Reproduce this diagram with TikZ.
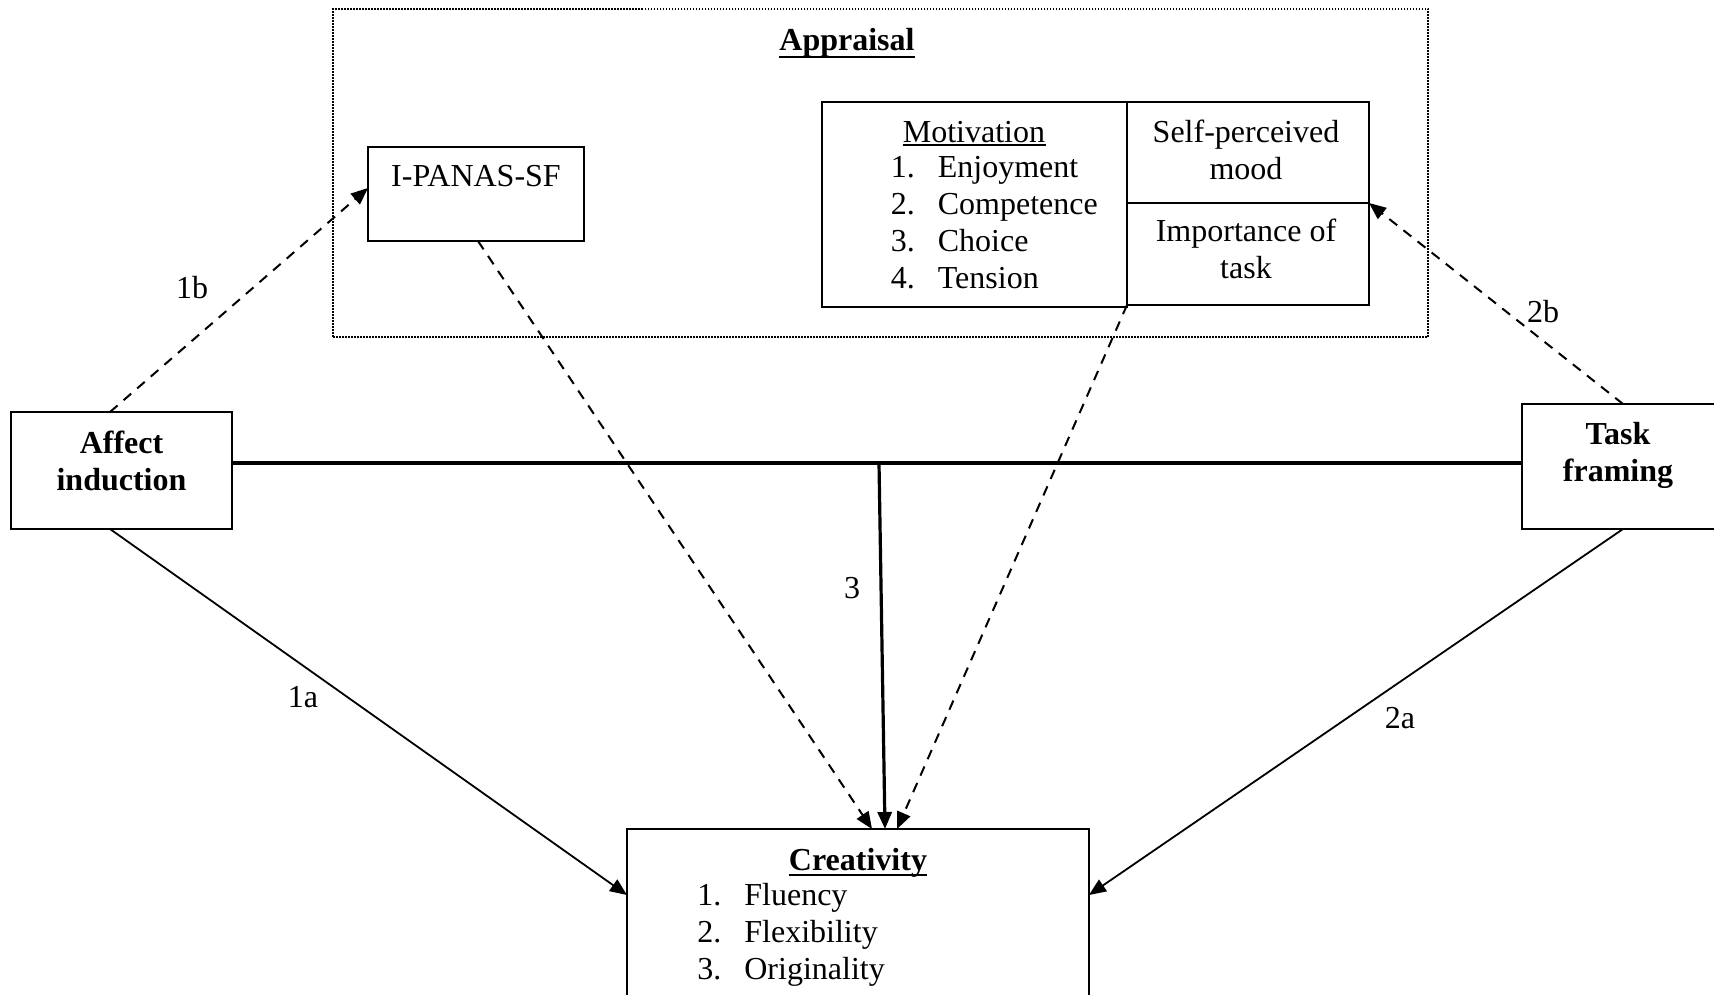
\documentclass[tikz,border=0pt]{standalone}
\usepackage{fontspec}
\setmainfont{Liberation Serif}
\usetikzlibrary{arrows.meta,calc,fit}
\tikzset{
  x=0.5pt, y=-0.5pt,
  txt/.style={inner sep=0pt, font=\fontsize{16}{18.5}\selectfont},
  box/.style={draw, line width=0.9pt, inner sep=0pt, outer sep=0pt},
  dotbox/.style={draw, line width=0.8pt, dash pattern=on 0.75pt off 0.75pt, inner sep=0pt},
  tip/.style={-{Triangle[length=8.5pt,width=7pt]}},
  dasharrow/.style={tip, line width=1pt, dash pattern=on 5pt off 4pt},
  solidarrow/.style={tip, line width=0.9pt},
  thickline/.style={line width=1.6pt},
  ulinestyle/.style={line width=1.2pt},
}
\begin{document}
\begin{tikzpicture}
\useasboundingbox (0,0) rectangle (1714,995);
\clip (0,0) rectangle (1714,995);
\fill[white] (0,0) rectangle (1714,995);

% Appraisal frame
\node[dotbox, fit={(333,9) (1428,337)}] (appraisal) {};
\node[txt, anchor=base] (apptitle) at (847,51) {\textbf{Appraisal}};
\draw[ulinestyle] ($(apptitle.base west)+(0,6)$) -- ($(apptitle.base east)+(0,6)$);

% I-PANAS-SF
\node[box, fit={(368,147) (584,241)}] (panas) {};
\node[txt, anchor=base] (panastxt) at (476,186) {I-PANAS-SF};

% Motivation
\node[box, fit={(822,102) (1127,307)}] (motiv) {};
\node[txt, anchor=base] (motivtitle) at (974,142) {Motivation};
\draw[line width=0.7pt] ($(motivtitle.base west)+(0,3)$) -- ($(motivtitle.base east)+(0,3)$);
\node[txt, anchor=base west] (motivlist) at (890.5,177)
  {\begin{tabular}[t]{@{}l@{\hspace{11.5pt}}l@{}}1.&Enjoyment\\2.&Competence\\3.&Choice\\4.&Tension\end{tabular}};

% Self-perceived mood / Importance of task
\node[box, fit={(1127,102) (1369,203)}] (selfp) {};
\node[txt, anchor=base] (selfptxt) at (1246,142)
  {\begin{tabular}[t]{@{}c@{}}Self-perceived\\mood\end{tabular}};
\node[box, fit={(1127,203) (1369,305)}] (import) {};
\node[txt, anchor=base] (importtxt) at (1246,242)
  {\begin{tabular}[t]{@{}c@{}}Importance of\\task\end{tabular}};

% Affect induction
\node[box, fit={(11,412) (232,529)}] (affect) {};
\node[txt, anchor=base] (affecttxt) at (121.5,453)
  {\begin{tabular}[t]{@{}c@{}}\textbf{Affect}\\\textbf{induction}\end{tabular}};

% Task framing
\node[box, fit={(1522,404) (1716,529)}] (task) {};
\node[txt, anchor=base] (tasktxt) at (1618,444)
  {\begin{tabular}[t]{@{}c@{}}\textbf{Task}\\\textbf{framing}\end{tabular}};

% Creativity
\node[box, fit={(627,829) (1089,1002)}] (creat) {};
\node[txt, anchor=base] (creattitle) at (858,870) {\textbf{Creativity}};
\draw[ulinestyle] ($(creattitle.base west)+(0,5)$) -- ($(creattitle.base east)+(0,5)$);
\node[txt, anchor=base west] (creatlist) at (697,905)
  {\begin{tabular}[t]{@{}l@{\hspace{11.5pt}}l@{}}1.&Fluency\\2.&Flexibility\\3.&Originality\end{tabular}};

% Connectors
\coordinate (junc) at (879,463);
\draw[thickline] (affect.east |- junc) -- (task.west |- junc);
\draw[tip, line width=1.6pt] (junc) -- ($(creat.north)+(27,0)$);

\draw[dasharrow] ($(affect.north)+(-11.5,0)$) -- ($(panas.north west)+(0,41)$);
\draw[dasharrow] ($(task.north)+(4,0)$) -- (import.north east);
\draw[dasharrow] ($(panas.south)+(2,0)$) -- ($(creat.north)+(14,0)$);
\draw[dasharrow] (import.south west) -- ($(creat.north)+(39,0)$);
\draw[solidarrow] ($(affect.south)+(-11.5,0)$) -- ($(creat.north west)+(0,66)$);
\draw[solidarrow] ($(task.south)+(4,0)$) -- ($(creat.north east)+(0,66)$);

% Labels
\node[txt] (l1b) at (192,288) {1b};
\node[txt] (l2b) at (1543,312) {2b};
\node[txt] (l1a) at (303,697) {1a};
\node[txt] (l2a) at (1400,718) {2a};
\node[txt] (l3) at (852,588) {3};
\end{tikzpicture}
\end{document}
